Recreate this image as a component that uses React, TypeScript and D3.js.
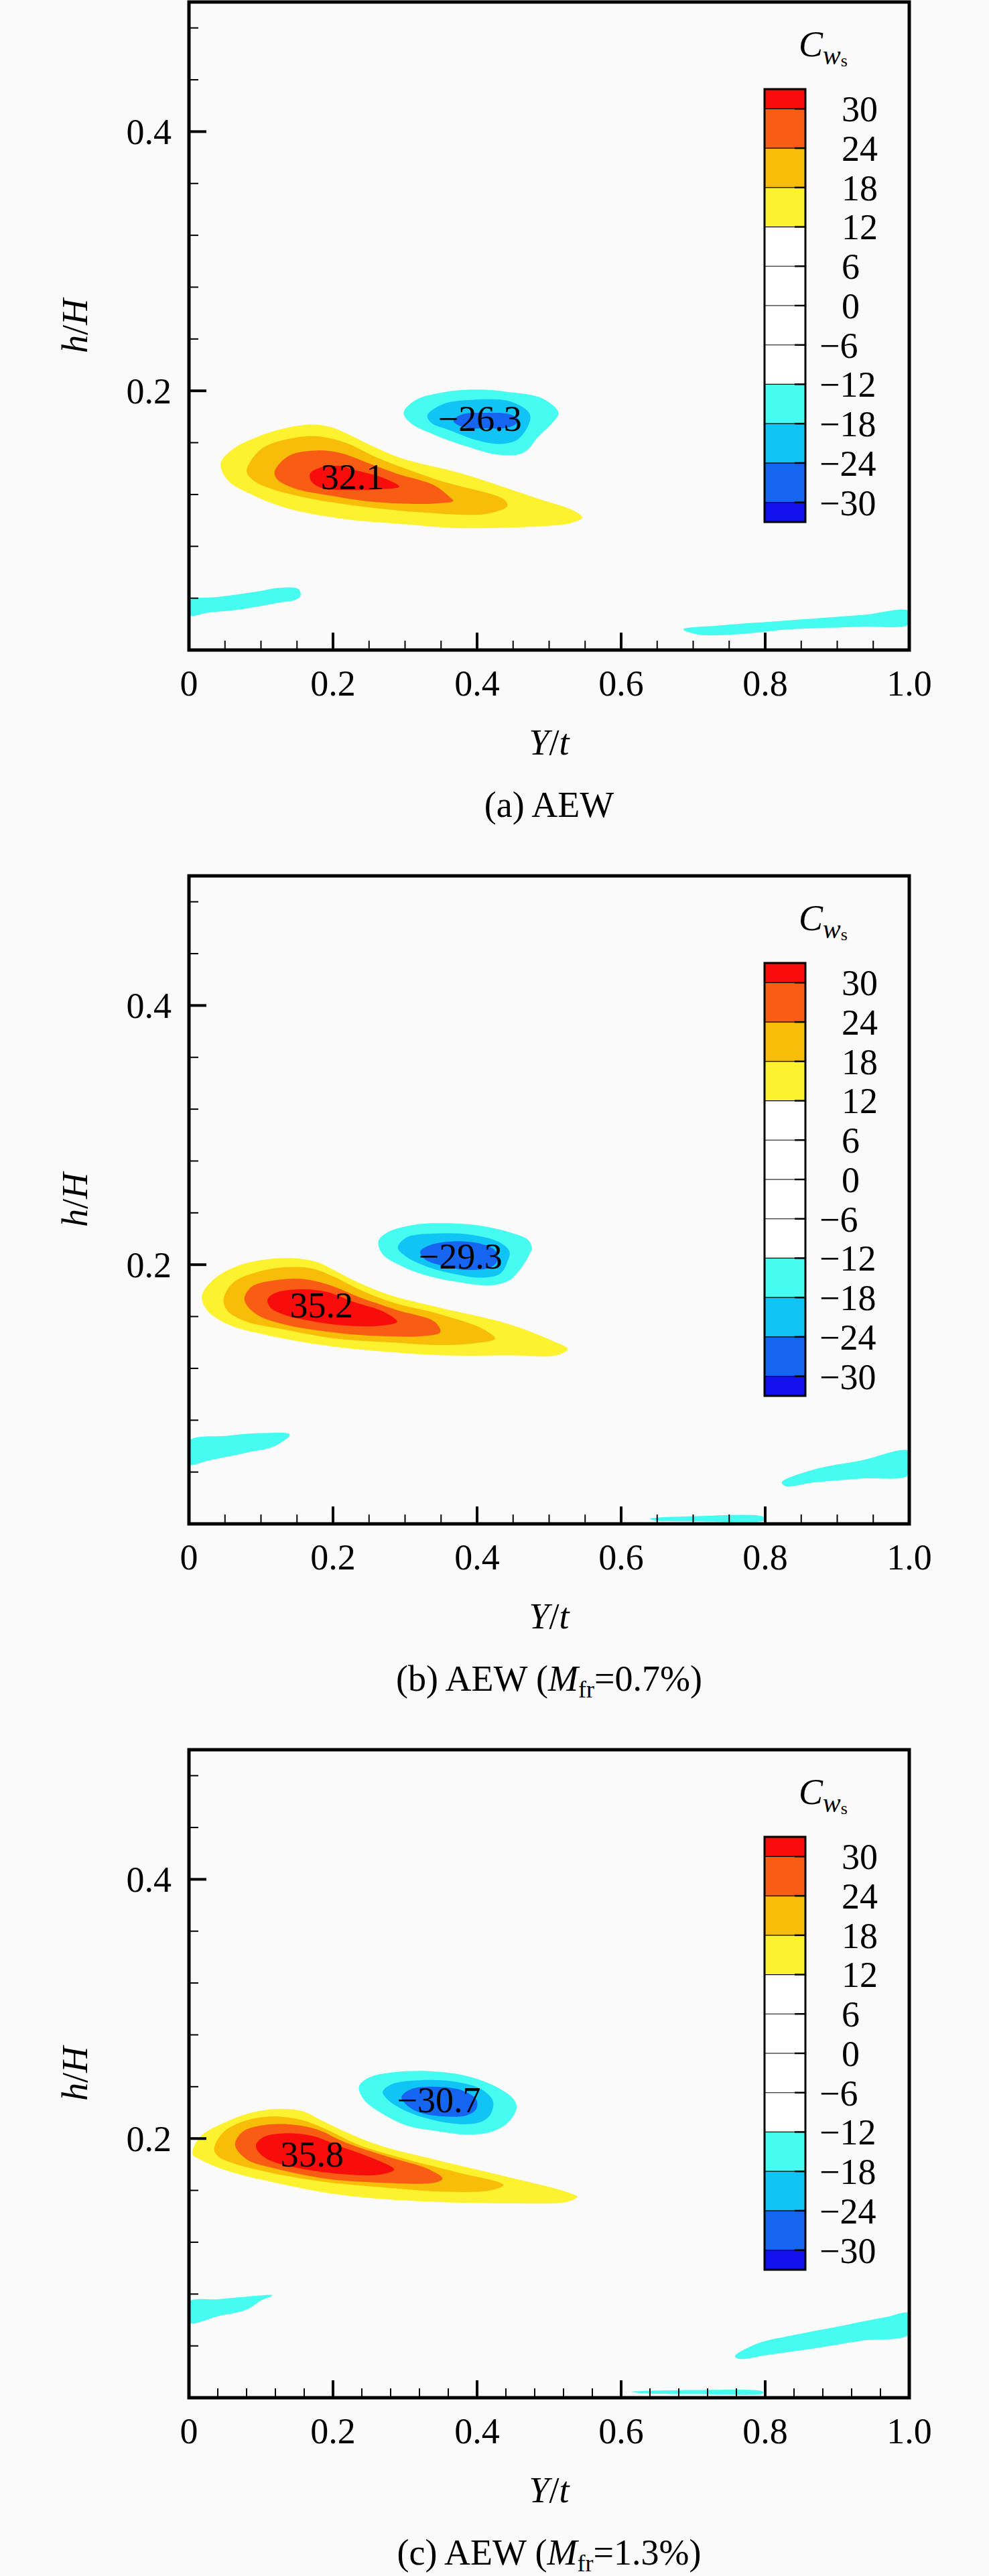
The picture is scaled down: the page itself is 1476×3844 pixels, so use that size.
import React, { useRef, useEffect } from 'react';
import * as d3 from 'd3';

type Pt = [number, number];

// colour levels of C_ws and the flood colours between them (lowest band first)
const levels = [-30, -24, -18, -12, -6, 0, 6, 12, 18, 24, 30];
const bandColors = ['#1111ee', '#1565f0', '#10c5f5', '#46fbef', '#ffffff', '#ffffff',
    '#ffffff', '#ffffff', '#fcf230', '#f8bd08', '#f95c13', '#f80d0d'];

const xTickValues = [0, 0.2, 0.4, 0.6, 0.8, 1.0];
const yTickValues = [0.2, 0.4];
const xMinorSteps = [0.05, 0.05, 0.04];
const yMinorStep = 0.04;

// contour outlines, [Y/t, h/H]
// panel (a) AEW
const a12: Pt[] = [[0.044, 0.144], [0.061, 0.155], [0.093, 0.164], [0.132, 0.171], [0.171, 0.174], [0.197, 0.172], [0.223, 0.166], [0.256, 0.157], [0.295, 0.148], [0.380, 0.136], [0.478, 0.118], [0.536, 0.107], [0.546, 0.102], [0.530, 0.098], [0.504, 0.096], [0.380, 0.094], [0.302, 0.097], [0.217, 0.101], [0.139, 0.109], [0.087, 0.120], [0.054, 0.131]];
const a18: Pt[] = [[0.080, 0.138], [0.100, 0.155], [0.139, 0.163], [0.178, 0.165], [0.217, 0.160], [0.263, 0.148], [0.347, 0.131], [0.438, 0.116], [0.442, 0.111], [0.412, 0.105], [0.328, 0.106], [0.236, 0.111], [0.158, 0.118], [0.106, 0.126], [0.087, 0.132]];
const a24: Pt[] = [[0.119, 0.138], [0.139, 0.150], [0.178, 0.154], [0.210, 0.152], [0.250, 0.144], [0.289, 0.136], [0.341, 0.127], [0.364, 0.117], [0.367, 0.115], [0.341, 0.113], [0.263, 0.114], [0.197, 0.119], [0.145, 0.125], [0.122, 0.132]];
const a30: Pt[] = [[0.168, 0.136], [0.184, 0.141], [0.210, 0.142], [0.236, 0.138], [0.269, 0.133], [0.292, 0.126], [0.263, 0.124], [0.217, 0.1235], [0.184, 0.125], [0.170, 0.130]];
const aN12: Pt[] = [[0.298, 0.183], [0.315, 0.193], [0.354, 0.199], [0.399, 0.201], [0.445, 0.199], [0.491, 0.194], [0.513, 0.183], [0.504, 0.175], [0.484, 0.164], [0.471, 0.155], [0.458, 0.151], [0.425, 0.151], [0.386, 0.157], [0.341, 0.166], [0.308, 0.175]];
const aN18: Pt[] = [[0.331, 0.181], [0.354, 0.190], [0.393, 0.193], [0.445, 0.192], [0.471, 0.184], [0.474, 0.179], [0.468, 0.170], [0.455, 0.162], [0.432, 0.159], [0.399, 0.162], [0.360, 0.170], [0.337, 0.175]];
const aN24: Pt[] = [[0.367, 0.177], [0.380, 0.182], [0.412, 0.183], [0.445, 0.182], [0.458, 0.177], [0.445, 0.172], [0.412, 0.171], [0.380, 0.172]];
const aStreakL: Pt[] = [[0, 0.038], [0.041, 0.041], [0.093, 0.045], [0.126, 0.048], [0.152, 0.047], [0.155, 0.042], [0.149, 0.039], [0.119, 0.036], [0.067, 0.031], [0.028, 0.029], [0, 0.027]];
const aStreakR: Pt[] = [[0.686, 0.016], [0.738, 0.019], [0.836, 0.023], [0.934, 0.027], [1, 0.030], [1, 0.020], [0.934, 0.018], [0.836, 0.016], [0.758, 0.012], [0.706, 0.012]];

// panel (b) AEW, M_fr = 0.7%
const b12: Pt[] = [[0.018, 0.176], [0.035, 0.189], [0.067, 0.199], [0.106, 0.204], [0.145, 0.205], [0.178, 0.202], [0.204, 0.195], [0.236, 0.186], [0.282, 0.176], [0.347, 0.167], [0.445, 0.154], [0.510, 0.140], [0.526, 0.135], [0.510, 0.130], [0.445, 0.130], [0.354, 0.130], [0.269, 0.133], [0.184, 0.138], [0.106, 0.146], [0.054, 0.154], [0.025, 0.165]];
const b18: Pt[] = [[0.048, 0.173], [0.061, 0.186], [0.093, 0.194], [0.132, 0.198], [0.171, 0.197], [0.204, 0.190], [0.236, 0.181], [0.282, 0.171], [0.347, 0.162], [0.406, 0.151], [0.425, 0.143], [0.406, 0.140], [0.354, 0.138], [0.282, 0.140], [0.204, 0.143], [0.132, 0.150], [0.080, 0.156], [0.054, 0.164]];
const b24: Pt[] = [[0.077, 0.173], [0.087, 0.183], [0.119, 0.188], [0.158, 0.189], [0.197, 0.184], [0.236, 0.175], [0.289, 0.165], [0.341, 0.156], [0.349, 0.148], [0.328, 0.145], [0.263, 0.145], [0.197, 0.148], [0.132, 0.154], [0.093, 0.162]];
const b30: Pt[] = [[0.109, 0.173], [0.119, 0.178], [0.152, 0.181], [0.191, 0.179], [0.230, 0.171], [0.269, 0.164], [0.289, 0.156], [0.269, 0.153], [0.217, 0.153], [0.165, 0.157], [0.129, 0.162], [0.113, 0.167]];
const bN12: Pt[] = [[0.263, 0.218], [0.276, 0.225], [0.315, 0.231], [0.354, 0.232], [0.406, 0.230], [0.445, 0.225], [0.471, 0.219], [0.476, 0.213], [0.471, 0.206], [0.458, 0.195], [0.445, 0.188], [0.419, 0.184], [0.380, 0.186], [0.334, 0.191], [0.295, 0.199], [0.269, 0.208]];
const bN18: Pt[] = [[0.290, 0.213], [0.302, 0.221], [0.341, 0.224], [0.393, 0.223], [0.432, 0.217], [0.445, 0.210], [0.442, 0.202], [0.432, 0.193], [0.406, 0.190], [0.367, 0.193], [0.328, 0.199], [0.302, 0.206]];
const bN24: Pt[] = [[0.321, 0.210], [0.334, 0.215], [0.367, 0.218], [0.406, 0.216], [0.425, 0.211], [0.429, 0.204], [0.419, 0.198], [0.386, 0.196], [0.354, 0.199], [0.328, 0.204]];
const bStreakL: Pt[] = [[0, 0.064], [0.054, 0.068], [0.100, 0.070], [0.140, 0.069], [0.119, 0.060], [0.080, 0.055], [0.028, 0.049], [0, 0.046]];
const bStreakR: Pt[] = [[0.823, 0.032], [0.868, 0.042], [0.934, 0.049], [1, 0.056], [1, 0.038], [0.934, 0.035], [0.868, 0.032], [0.829, 0.029]];
const bStreakB: Pt[] = [[0.640, 0.004], [0.705, 0.006], [0.797, 0.0055], [0.800, 0.003], [0.705, 0.002], [0.647, 0.0027]];

// panel (c) AEW, M_fr = 1.3%
const c12: Pt[] = [[0.005, 0.188], [0.015, 0.201], [0.048, 0.212], [0.087, 0.220], [0.126, 0.223], [0.158, 0.221], [0.184, 0.214], [0.210, 0.207], [0.263, 0.195], [0.347, 0.183], [0.445, 0.170], [0.523, 0.159], [0.539, 0.155], [0.523, 0.151], [0.445, 0.150], [0.347, 0.151], [0.276, 0.153], [0.204, 0.157], [0.119, 0.166], [0.054, 0.175], [0.015, 0.184]];
const c18: Pt[] = [[0.035, 0.192], [0.048, 0.205], [0.080, 0.214], [0.119, 0.217], [0.158, 0.214], [0.191, 0.207], [0.236, 0.195], [0.302, 0.184], [0.380, 0.173], [0.432, 0.166], [0.437, 0.164], [0.419, 0.160], [0.354, 0.159], [0.276, 0.162], [0.197, 0.166], [0.119, 0.173], [0.061, 0.181], [0.041, 0.186]];
const c24: Pt[] = [[0.064, 0.195], [0.074, 0.205], [0.100, 0.210], [0.139, 0.211], [0.178, 0.207], [0.217, 0.197], [0.276, 0.186], [0.334, 0.176], [0.352, 0.169], [0.341, 0.166], [0.263, 0.166], [0.191, 0.169], [0.119, 0.177], [0.080, 0.184]];
const c30: Pt[] = [[0.093, 0.195], [0.103, 0.201], [0.132, 0.204], [0.171, 0.202], [0.210, 0.194], [0.263, 0.183], [0.285, 0.176], [0.263, 0.172], [0.204, 0.173], [0.145, 0.178], [0.109, 0.184], [0.096, 0.190]];
const cN12: Pt[] = [[0.236, 0.240], [0.250, 0.247], [0.282, 0.251], [0.334, 0.252], [0.380, 0.249], [0.419, 0.242], [0.448, 0.232], [0.455, 0.225], [0.451, 0.218], [0.438, 0.210], [0.419, 0.205], [0.386, 0.203], [0.341, 0.206], [0.302, 0.210], [0.263, 0.221], [0.243, 0.230]];
const cN18: Pt[] = [[0.269, 0.236], [0.282, 0.242], [0.321, 0.245], [0.367, 0.244], [0.406, 0.238], [0.422, 0.229], [0.419, 0.219], [0.406, 0.213], [0.380, 0.211], [0.341, 0.214], [0.302, 0.221], [0.276, 0.230]];
const cN24: Pt[] = [[0.295, 0.232], [0.308, 0.238], [0.341, 0.240], [0.380, 0.237], [0.399, 0.230], [0.399, 0.223], [0.386, 0.218], [0.354, 0.217], [0.321, 0.220], [0.302, 0.226]];
const cStreakL: Pt[] = [[0, 0.074], [0.041, 0.076], [0.080, 0.078], [0.116, 0.079], [0.100, 0.075], [0.080, 0.068], [0.041, 0.063], [0, 0.058]];
const cStreakR: Pt[] = [[0.758, 0.032], [0.790, 0.042], [0.836, 0.048], [0.901, 0.055], [0.966, 0.062], [1, 0.065], [1, 0.049], [0.934, 0.044], [0.868, 0.038], [0.803, 0.033], [0.764, 0.030]];
const cStreakB: Pt[] = [[0.614, 0.0046], [0.705, 0.0059], [0.797, 0.0046], [0.797, 0.0033], [0.705, 0.0028], [0.634, 0.0033]];

// extreme values written inside the blobs
const peakLabels = [
    [{ text: '32.1', x: 0.227, y: 0.134 }, { text: '\u221226.3', x: 0.404, y: 0.179 }],
    [{ text: '35.2', x: 0.184, y: 0.169 }, { text: '\u221229.3', x: 0.377, y: 0.207 }],
    [{ text: '35.8', x: 0.171, y: 0.188 }, { text: '\u221230.7', x: 0.347, y: 0.230 }],
];

const captions = [
    { head: '(a) AEW', mfr: '' },
    { head: '(b) AEW (', mfr: '=0.7%)' },
    { head: '(c) AEW (', mfr: '=1.3%)' },
];

const panels = [
    {
        regions: [
            { level: 12, pts: a12 }, { level: 18, pts: a18 }, { level: 24, pts: a24 }, { level: 30, pts: a30 },
            { level: -12, pts: aN12 }, { level: -18, pts: aN18 }, { level: -24, pts: aN24 },
            { level: -12, pts: aStreakL }, { level: -12, pts: aStreakR },
        ],
    },
    {
        regions: [
            { level: 12, pts: b12 }, { level: 18, pts: b18 }, { level: 24, pts: b24 }, { level: 30, pts: b30 },
            { level: -12, pts: bN12 }, { level: -18, pts: bN18 }, { level: -24, pts: bN24 },
            { level: -12, pts: bStreakL }, { level: -12, pts: bStreakR }, { level: -12, pts: bStreakB },
        ],
    },
    {
        regions: [
            { level: 12, pts: c12 }, { level: 18, pts: c18 }, { level: 24, pts: c24 }, { level: 30, pts: c30 },
            { level: -12, pts: cN12 }, { level: -18, pts: cN18 }, { level: -24, pts: cN24 },
            { level: -12, pts: cStreakL }, { level: -12, pts: cStreakR }, { level: -12, pts: cStreakB },
        ],
    },
];

const W = 1476;
const H = 3844;
const PANEL_H = 1304;
const FONT = '"Liberation Serif", "Times New Roman", serif';
const FS = 54;

const fillFor = (level: number) => {
    const k = levels.indexOf(level);
    return level > 0 ? bandColors[k + 1] : bandColors[k];
};

const drawPanel = (svg, i: number) => {
    const p = panels[i];
    const g = svg.append('g').attr('transform', `translate(0,${i * PANEL_H})`);

    const x = d3.scaleLinear().domain([0, 1]).range([282, 1357]);
    const y = d3.scaleLinear().domain([0, 0.5]).range([970, 3]);

    const clipId = `plot-clip-${i}`;
    g.append('clipPath').attr('id', clipId)
        .append('rect')
        .attr('x', x(0)).attr('y', y(0.5))
        .attr('width', x(1) - x(0)).attr('height', y(0) - y(0.5));

    // flooded contours
    const line = d3.line<Pt>()
        .x(d => x(d[0]))
        .y(d => y(d[1]))
        .curve(d3.curveCatmullRomClosed.alpha(0.5));

    const plot = g.append('g').attr('clip-path', `url(#${clipId})`);
    plot.selectAll('path.region')
        .data(p.regions)
        .enter().append('path')
        .attr('class', 'region')
        .attr('d', d => line(d.pts))
        .attr('fill', d => fillFor(d.level));

    plot.selectAll('text.peak')
        .data(peakLabels[i])
        .enter().append('text')
        .attr('class', 'peak')
        .attr('x', d => x(d.x))
        .attr('y', d => y(d.y))
        .attr('dy', '0.35em')
        .attr('text-anchor', 'middle')
        .attr('font-family', FONT)
        .attr('font-size', FS)
        .attr('fill', '#000')
        .text(d => d.text);

    // ticks (pointing inwards, left and bottom only)
    const xMinor = d3.range(0, 1 + 1e-9, xMinorSteps[i]);
    const yMinor = d3.range(0, 0.5 + 1e-9, yMinorStep);

    g.selectAll('line.xminor').data(xMinor).enter().append('line')
        .attr('x1', d => x(d)).attr('x2', d => x(d))
        .attr('y1', y(0)).attr('y2', y(0) - 14)
        .attr('stroke', '#000').attr('stroke-width', 2);
    g.selectAll('line.xmajor').data(xTickValues).enter().append('line')
        .attr('x1', d => x(d)).attr('x2', d => x(d))
        .attr('y1', y(0)).attr('y2', y(0) - 26)
        .attr('stroke', '#000').attr('stroke-width', 4);
    g.selectAll('line.yminor').data(yMinor).enter().append('line')
        .attr('x1', x(0)).attr('x2', x(0) + 14)
        .attr('y1', d => y(d)).attr('y2', d => y(d))
        .attr('stroke', '#000').attr('stroke-width', 2);
    g.selectAll('line.ymajor').data(yTickValues).enter().append('line')
        .attr('x1', x(0)).attr('x2', x(0) + 26)
        .attr('y1', d => y(d)).attr('y2', d => y(d))
        .attr('stroke', '#000').attr('stroke-width', 4);

    // frame
    g.append('rect')
        .attr('x', x(0)).attr('y', y(0.5))
        .attr('width', x(1) - x(0)).attr('height', y(0) - y(0.5))
        .attr('fill', 'none').attr('stroke', '#000').attr('stroke-width', 5);

    // tick labels
    g.selectAll('text.xlab').data(xTickValues).enter().append('text')
        .attr('x', d => x(d)).attr('y', y(0) + 68)
        .attr('text-anchor', 'middle')
        .attr('font-family', FONT).attr('font-size', FS)
        .text(d => (d === 0 ? '0' : d3.format('.1f')(d)));
    g.selectAll('text.ylab').data(yTickValues).enter().append('text')
        .attr('x', x(0) - 26).attr('y', d => y(d))
        .attr('dy', '0.35em')
        .attr('text-anchor', 'end')
        .attr('font-family', FONT).attr('font-size', FS)
        .text(d => d3.format('.1f')(d));

    // axis titles
    const xt = g.append('text')
        .attr('x', (x(0) + x(1)) / 2).attr('y', y(0) + 156)
        .attr('text-anchor', 'middle')
        .attr('font-family', FONT).attr('font-size', FS);
    xt.append('tspan').attr('font-style', 'italic').text('Y');
    xt.append('tspan').text('/');
    xt.append('tspan').attr('font-style', 'italic').text('t');

    const yt = g.append('text')
        .attr('transform', `translate(130,${(y(0) + y(0.5)) / 2}) rotate(-90)`)
        .attr('text-anchor', 'middle')
        .attr('font-family', FONT).attr('font-size', FS);
    yt.append('tspan').attr('font-style', 'italic').text('h');
    yt.append('tspan').text('/');
    yt.append('tspan').attr('font-style', 'italic').text('H');

    // caption
    const cap = captions[i];
    const ct = g.append('text')
        .attr('x', (x(0) + x(1)) / 2).attr('y', 1219)
        .attr('text-anchor', 'middle')
        .attr('font-family', FONT).attr('font-size', FS);
    ct.append('tspan').text(cap.head);
    if (cap.mfr) {
        ct.append('tspan').attr('font-style', 'italic').text('M');
        ct.append('tspan').attr('font-size', 36).attr('dy', 10).text('fr');
        ct.append('tspan').attr('dy', -10).text(cap.mfr);
    }

    // colour bar
    const cb = d3.scaleLinear().domain([-33, 33]).range([779, 133]);
    const edges = [-33, ...levels, 33];
    const cbx = 1141;
    const cbw = 61;
    g.selectAll('rect.band').data(bandColors).enter().append('rect')
        .attr('x', cbx).attr('width', cbw)
        .attr('y', (d, k) => cb(edges[k + 1]))
        .attr('height', (d, k) => cb(edges[k]) - cb(edges[k + 1]))
        .attr('fill', d => d);
    g.selectAll('line.sep').data(levels).enter().append('line')
        .attr('x1', cbx).attr('x2', cbx + cbw)
        .attr('y1', d => cb(d)).attr('y2', d => cb(d))
        .attr('stroke', '#000').attr('stroke-width', 1.2);
    g.selectAll('line.cbtick').data(levels).enter().append('line')
        .attr('x1', cbx + cbw - 16).attr('x2', cbx + cbw)
        .attr('y1', d => cb(d)).attr('y2', d => cb(d))
        .attr('stroke', '#000').attr('stroke-width', 2.5);
    g.append('rect')
        .attr('x', cbx).attr('y', cb(33))
        .attr('width', cbw).attr('height', cb(-33) - cb(33))
        .attr('fill', 'none').attr('stroke', '#000').attr('stroke-width', 3);
    g.selectAll('text.cblab').data(levels).enter().append('text')
        .attr('x', d => (d < 0 ? 1223 : 1256))
        .attr('y', d => cb(d))
        .attr('dy', '0.35em')
        .attr('font-family', FONT).attr('font-size', FS)
        .text(d => (d < 0 ? '\u2212' : '') + Math.abs(d));

    // colour bar title C_ws
    const tt = g.append('text')
        .attr('x', 1192).attr('y', 84)
        .attr('font-family', FONT).attr('font-size', FS);
    tt.append('tspan').attr('font-style', 'italic').text('C');
    tt.append('tspan').attr('font-style', 'italic').attr('font-size', 40).attr('dy', 12).text('w');
    tt.append('tspan').attr('font-size', 26).attr('dy', 3).text('s');
};

export default function App() {
    const svgRef = useRef<SVGSVGElement>(null);

    useEffect(() => {
        if (!svgRef.current) return;
        const svg = d3.select(svgRef.current);
        svg.selectAll('*').remove();

        svg.append('rect').attr('width', W).attr('height', H).attr('fill', '#fafafa');
        panels.forEach((p, i) => drawPanel(svg, i));
    }, []);

    return (
        <svg
            ref={svgRef}
            width={W}
            height={H}
            style={{ position: 'absolute', left: 0, top: 0, display: 'block' }}
        />
    );
}
